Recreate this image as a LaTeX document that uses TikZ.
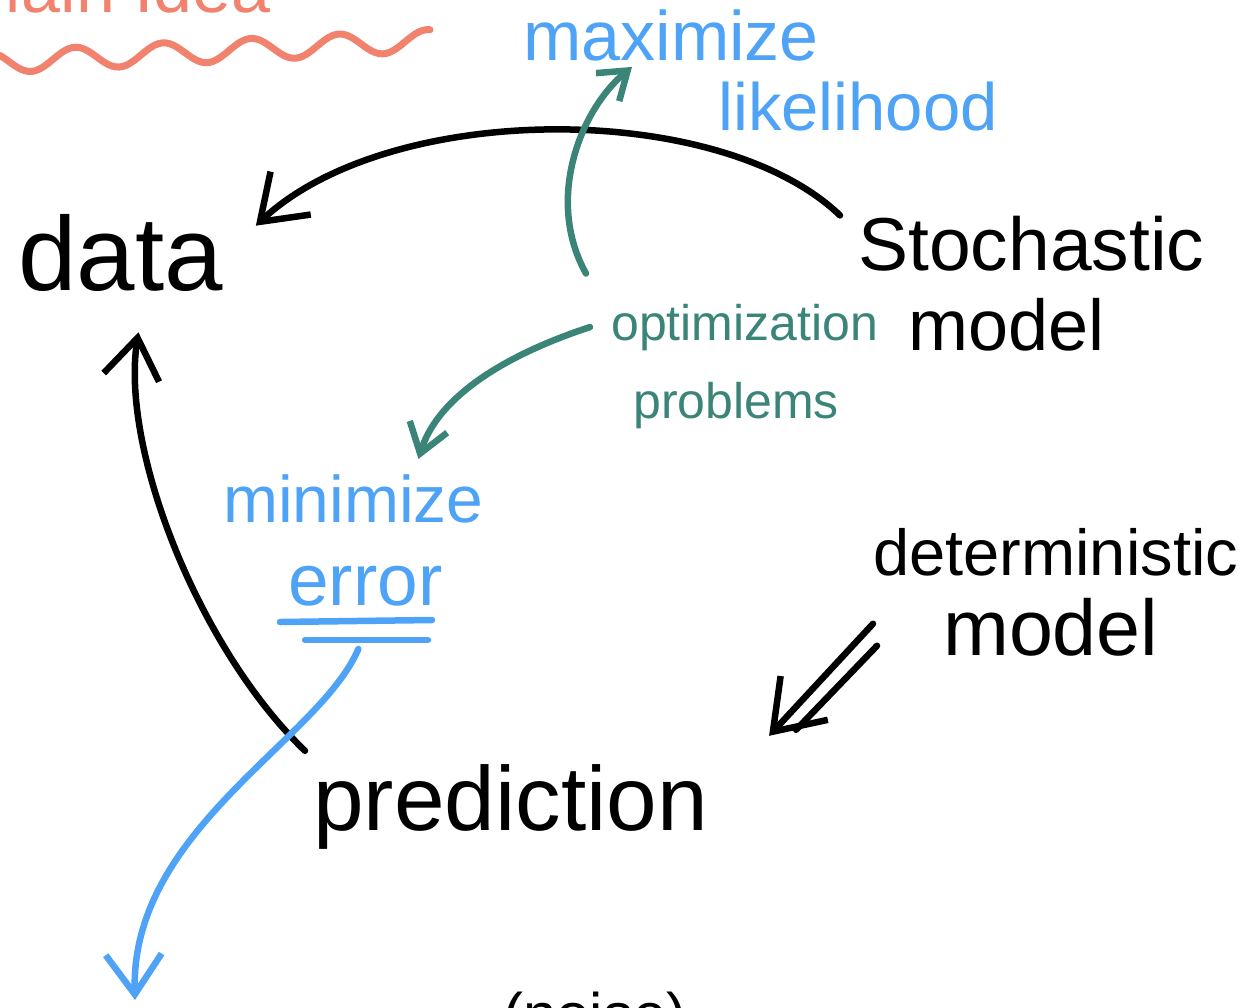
\documentclass[tikz,border=0pt]{standalone}
\usepackage{fontspec}
\setmainfont{Liberation Sans}
\usetikzlibrary{arrows.meta}
\definecolor{inkblue}{HTML}{4FA3F6}
\definecolor{inkgreen}{HTML}{3B8478}
\definecolor{inkred}{HTML}{F0826E}

\begin{document}
\begin{tikzpicture}[x=1pt,y=-1pt,line width=6.5pt,line cap=round,line join=round,
  word/.style={anchor=base west,inner sep=0pt},
  tip/.style={-{Straight Barb[length=#1,width=1.4*#1,line width=6.5pt]}}]
  \useasboundingbox (0,0) rectangle (1249,1007);
  % top title, cut off by the page edge
  \node[word,text=inkred,font=\fontsize{70}{80}\selectfont] (title) at (-40,12) {Main Idea};
  \draw[inkred,line width=7pt] plot[domain=0:430,samples=120] (\x,{62-0.05*\x-11*cos((\x-75)*4.09)});
  % words
  \node[word,font=\fontsize{105}{110}\selectfont] (data) at (15,290) {data};
  \node[word,font=\fontsize{75}{80}\selectfont] (stoch) at (855,270) {Stochastic};
  \node[word,font=\fontsize{72}{80}\selectfont] (stochm) at (905,350) {model};
  \node[word,font=\fontsize{65}{70}\selectfont] (det) at (870,575) {deterministic};
  \node[word,font=\fontsize{79}{80}\selectfont] (detm) at (940,655) {model};
  \node[word,font=\fontsize{91}{100}\selectfont] (pred) at (310,830) {prediction};
  \node[word,text=inkblue,font=\fontsize{70}{80}\selectfont] (maxi) at (520,60) {maximize};
  \node[word,text=inkblue,font=\fontsize{67}{70}\selectfont] (likel) at (715,130) {likelihood};
  \node[word,text=inkgreen,font=\fontsize{50}{50}\selectfont] (optim) at (608,340) {optimization};
  \node[word,text=inkgreen,font=\fontsize{50}{50}\selectfont] (probl) at (630,418) {problems};
  \node[word,text=inkblue,font=\fontsize{66}{70}\selectfont] (mini) at (220,522) {minimize};
  \node[word,text=inkblue,font=\fontsize{73}{80}\selectfont] (err) at (285,605) {error};
  \node[word,font=\fontsize{60}{70}\selectfont] (noise) at (500,1035) {(noise)};
  \coordinate (sink) at (135,1000);
  % underlines of error
  \draw[inkblue] ([shift={(-5,17)}]err.base west) -- ++(152,-2);
  \draw[inkblue] ([shift={(20,35)}]err.base west) -- ++(123,0);
  % arrows
  \draw[tip=42pt] ([shift={(-15,3)}]stoch.north west) .. controls (720,100) and (390,100) .. ([shift={(30,15)}]data.north east);
  \draw[tip=40pt] ([shift={(-5,-10)}]pred.north west) .. controls (200,650) and (120,450) .. ([shift={(18,38)}]data.south);
  \draw[inkgreen,tip=26pt] ([shift={(-22,-27)}]optim.north west) .. controls (545,200) and (580,110) .. ([shift={(112,3)}]maxi.south west);
  \draw[inkgreen,tip=28pt] ([xshift=-18pt]optim.west) .. controls (520,350) and (440,390) .. ([shift={(65,-12)}]mini.north);
  \draw[inkblue,tip=40pt] ([shift={(-7,40)}]err.south) .. controls (320,740) and (130,830) .. (sink);
  \draw[tip=46pt] ([shift={(-67,-3)}]detm.west) -- ([shift={(58,-25)}]pred.north east);
  \draw ([shift={(-63,19)}]detm.west) -- ([shift={(85,-31)}]pred.north east);
\end{tikzpicture}
\end{document}
